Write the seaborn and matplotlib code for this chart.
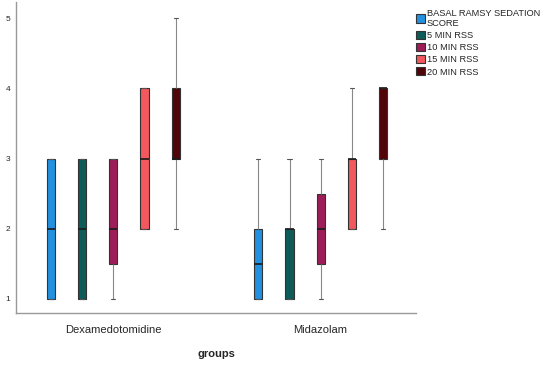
import numpy as np
import matplotlib
matplotlib.use("Agg")
import matplotlib.pyplot as plt
import seaborn as sns
import pandas as pd

groups = ['Dexamedotomidine', 'Midazolam']
times = ['BASAL RAMSY SEDATION\nSCORE', '5 MIN RSS', '10 MIN RSS', '15 MIN RSS', '20 MIN RSS']
colors = ['#2391E0', '#0D5C5A', '#9C1D58', '#F2585D', '#520509']

# scores per group / time point (ordinal RSS values)
dex_basal = [1, 1, 2, 3, 3]
dex_5 = [1, 1, 2, 3, 3]
dex_10 = [1, 1, 2, 2, 3, 3, 3]
dex_15 = [2, 2, 3, 4, 4]
dex_20 = [2, 3, 3, 3, 4, 4, 5]
mid_basal = [1, 1, 1, 1, 1, 2, 2, 2, 3, 3]
mid_5 = [1, 1, 1, 2, 2, 2, 3]
mid_10 = [1, 1, 2, 2, 2, 3, 3]
mid_15 = [2, 2, 2, 3, 3, 3, 4]
mid_20 = [2, 3, 3, 4, 4, 4, 4]

rows = []
for g, series in zip(groups, [[dex_basal, dex_5, dex_10, dex_15, dex_20],
                              [mid_basal, mid_5, mid_10, mid_15, mid_20]]):
    for t, vals in zip(times, series):
        for v in vals:
            rows.append({'groups': g, 'time': t, 'score': v})
df = pd.DataFrame(rows)

sns.set_style('white')
plt.rcParams['font.family'] = ['Liberation Sans', 'DejaVu Sans']

fig = plt.figure(figsize=(5.57, 3.68), dpi=100)
ax = fig.add_axes([0.0287, 0.1495, 0.718, 0.845])

sns.boxplot(data=df, x='groups', y='score', hue='time', hue_order=times,
            palette=colors, width=0.75, gap=0.74, saturation=1, whis=1.5,
            linewidth=0.8, linecolor='#333333', showfliers=False,
            whiskerprops={'color': '#888888'}, capprops={'color': '#555555'},
            medianprops={'color': '#1a1a1a', 'linewidth': 1.2}, ax=ax)

ax.set_ylim(0.8, 5.23)
ax.set_xlim(-0.47, 1.46)
ax.set_yticks([1, 2, 3, 4, 5])
ax.tick_params(axis='y', labelsize=6, length=0, pad=4)
ax.tick_params(axis='x', labelsize=8, length=0, pad=9)
ax.set_ylabel('')
ax.set_xlabel('groups', fontsize=8, fontweight='bold', labelpad=10)
for s in ['top', 'right']:
    ax.spines[s].set_visible(False)
for s in ['left', 'bottom']:
    ax.spines[s].set_color('#999999')
    ax.spines[s].set_linewidth(1)

leg = ax.legend(loc='upper left', bbox_to_anchor=(0.985, 1.0), frameon=False,
                fontsize=6.7, handlelength=0.9, handleheight=1.0,
                handletextpad=0.2, labelspacing=0.3, borderaxespad=0.3)
for h in leg.legend_handles:
    h.set_edgecolor('#333333')

fig.savefig('out.png', dpi=100)
